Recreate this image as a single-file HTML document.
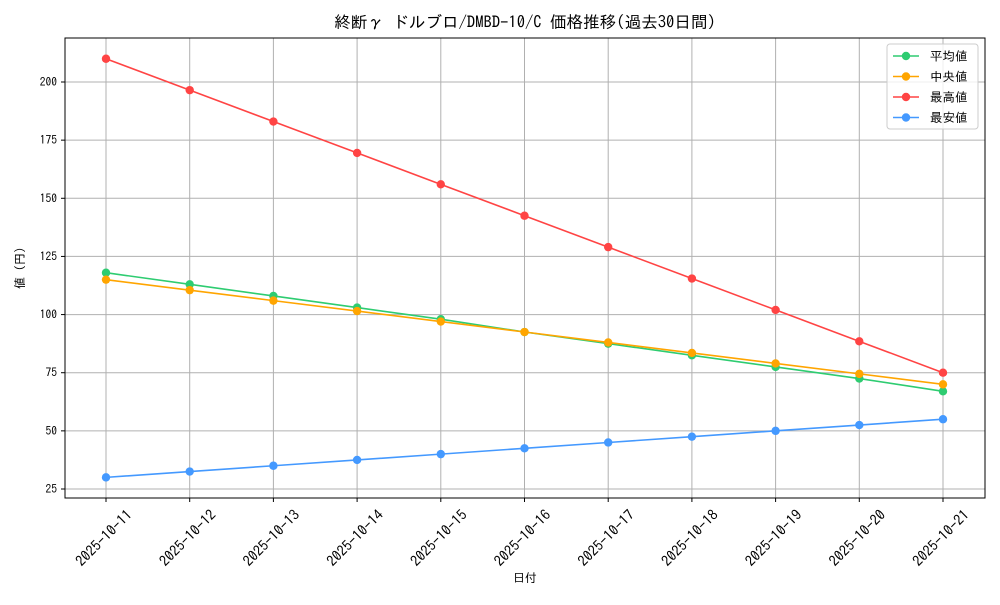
<!DOCTYPE html>
<html><head><meta charset="utf-8">
<style>
html,body{margin:0;padding:0;background:#fff;}
svg text{font-family:"IPAGothic","Liberation Sans","Noto Sans CJK JP",sans-serif;fill:#000;}
</style></head>
<body>
<svg id="chart" width="1000" height="600" xmlns="http://www.w3.org/2000/svg">
<rect width="1000" height="600" fill="#fff"/>
<text x="525" y="28" font-size="16.6" text-anchor="middle">終断γ ドルブロ/DMBD-10/C 価格推移(過去30日間)</text>
<g id="grid"></g>
<rect x="65" y="38" width="920" height="460" fill="none" stroke="#000" stroke-width="1"/>
<g id="series"></g>
<text x="525" y="582" font-size="12" text-anchor="middle">日付</text>
<text x="24" y="268" font-size="12" text-anchor="middle" transform="rotate(-90 24 268)">値 (円)</text>
<g id="legend"></g>
</svg>
<script>
const categories=["2025-10-11","2025-10-12","2025-10-13","2025-10-14","2025-10-15","2025-10-16","2025-10-17","2025-10-18","2025-10-19","2025-10-20","2025-10-21"];
const meanValues=[118,113,108,103,98,92.5,87.5,82.5,77.5,72.5,67];
const medianValues=[115,110.5,106,101.5,97,92.5,88,83.5,79,74.5,70];
const maxValues=[210,196.5,183,169.5,156,142.5,129,115.5,102,88.5,75];
const minValues=[30,32.5,35,37.5,40,42.5,45,47.5,50,52.5,55];
const yTicks=[25,50,75,100,125,150,175,200];
const seriesNames=["平均値","中央値","最高値","最安値"];
const NS="http://www.w3.org/2000/svg";
function xs(i){return 106+i*(943-106)/(categories.length-1);}
function ys(v){return 489-(v-25)*(489-82)/175;}
function mk(t,a,p){const e=document.createElementNS(NS,t);for(const k in a)e.setAttribute(k,a[k]);p.appendChild(e);return e;}
const grid=document.getElementById('grid');
yTicks.forEach(v=>{
 const l=mk('line',{x1:65,x2:985,y1:ys(v),y2:ys(v),stroke:'#b0b0b0','stroke-width':1},grid);
 
 
 mk('line',{x1:61,x2:65,y1:ys(v),y2:ys(v),stroke:'#000'},grid);
 const t=mk('text',{x:57,y:ys(v)+4,'font-size':11.5,'text-anchor':'end'},grid);t.textContent=v;
 
 
});
categories.forEach((c,i)=>{
 const l=mk('line',{x1:xs(i),x2:xs(i),y1:38,y2:498,stroke:'#b0b0b0','stroke-width':1},grid);
 
 
 mk('line',{x1:xs(i),x2:xs(i),y1:498,y2:502,stroke:'#000'},grid);
 const cx=xs(i)-2,cy=543;
 const t=mk('text',{x:cx,y:cy,'font-size':14.5,'text-anchor':'middle',transform:`rotate(-45 ${cx} ${cy-5})`},grid);t.textContent=c;
 
 
});
const ser=document.getElementById('series');
const defs=[[meanValues,'#2ecc71','mean'],[medianValues,'#ffa500','median'],[maxValues,'#ff4444','max'],[minValues,'#4499ff','min']];
defs.forEach(([vals,col,nm])=>{
 const g=mk('g',{},ser);
 
 
 const p=mk('polyline',{points:vals.map((v,i)=>xs(i)+','+ys(v)).join(' '),fill:'none',stroke:col,'stroke-width':1.6},g);
 
 
 vals.forEach((v,i)=>{const c=mk('circle',{cx:xs(i),cy:ys(v),r:4.2,fill:col},g);
  
  });
});
const lg=document.getElementById('legend');
const box=mk('rect',{x:887,y:44,width:91,height:85,rx:3,fill:'#fff','fill-opacity':0.8,stroke:'#ccc'},lg);


seriesNames.forEach((n,i)=>{
 const y=56+i*20.5,col=defs[i][1];
 mk('line',{x1:893,x2:919,y1:y,y2:y,stroke:col,'stroke-width':1.6},lg);
 mk('circle',{cx:906,cy:y,r:4.2,fill:col},lg);
 const t=mk('text',{x:930,y:y+4.5,'font-size':12.5},lg);t.textContent=(i==1?' ':'')+n;
 
 
});
</script>
</body></html>
